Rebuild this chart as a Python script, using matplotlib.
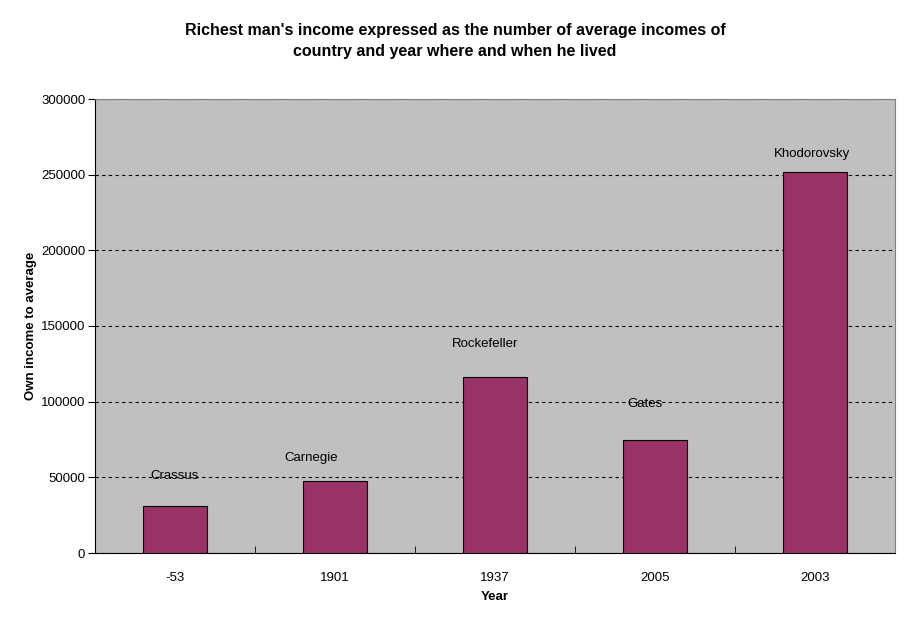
import matplotlib.pyplot as plt
import numpy as np

plt.rcParams['font.family'] = ['Liberation Sans', 'DejaVu Sans']

years = ['-53', '1901', '1937', '2005', '2003']
names = ['Crassus', 'Carnegie', 'Rockefeller', 'Gates', 'Khodorovsky']
ratio = [31000, 47500, 116000, 74500, 251500]
# where each name label sits (data units), as placed in the original
label_y = [50800, 62800, 138000, 98500, 263500]
label_dx = [0.0, -0.15, -0.06, -0.06, -0.02]

fig = plt.figure(figsize=(9.11, 6.23), dpi=100)
ax = fig.add_axes([95 / 911, 1 - 553 / 623, 800 / 911, 454 / 623])
ax.set_facecolor('#c0c0c0')

x = np.arange(len(years))
ax.bar(x, ratio, width=0.4, color='#993366', edgecolor='black', linewidth=0.8, zorder=3)

for i, name in enumerate(names):
    ax.text(x[i] + label_dx[i], label_y[i], name, ha='center', va='center', fontsize=9.5, zorder=4)

ax.set_xlim(-0.5, len(years) - 0.5)
ax.set_ylim(0, 300000)
ax.set_yticks(range(0, 300001, 50000))
ax.set_xticks(x)
ax.set_xticklabels(years, fontsize=9.5)
ax.set_xticks(np.arange(-0.5, len(years), 1.0), minor=True)
ax.tick_params(axis='x', which='major', length=0, pad=14)
ax.tick_params(axis='x', which='minor', length=5, direction='in', color='black')
ax.tick_params(axis='y', length=5, direction='out', labelsize=9.5, pad=2)
ax.yaxis.grid(True, linestyle=(0, (3, 3)), color='black', linewidth=0.8, zorder=1)

for s in ['top', 'right']:
    ax.spines[s].set_color('#808080')
for s in ['left', 'bottom']:
    ax.spines[s].set_color('black')

ax.set_xlabel('Year', fontsize=9.5, fontweight='bold', labelpad=5)
ax.set_ylabel('Own income to average', fontsize=9.5, fontweight='bold', labelpad=3)

fig.text(455 / 911, 1 - 41 / 623,
         "Richest man's income expressed as the number of average incomes of\ncountry and year where and when he lived",
         ha='center', va='center', fontsize=11.5, fontweight='bold', linespacing=1.45)

fig.savefig('out.png', dpi=100)
